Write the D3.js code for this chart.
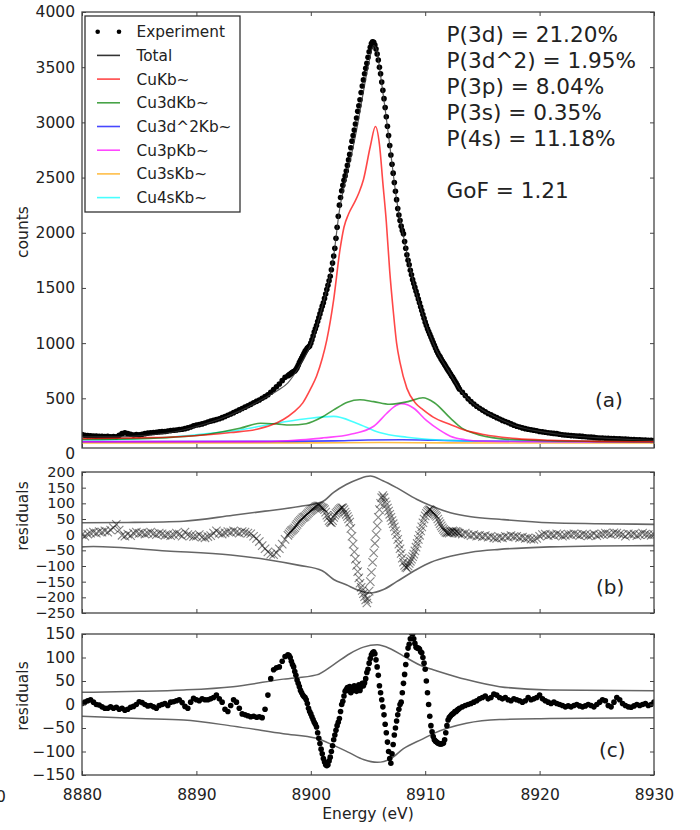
<!DOCTYPE html>
<html><head><meta charset="utf-8">
<script src="https://cdn.jsdelivr.net/npm/d3@7"></script>
<style>body{margin:0;background:#fff} text{font-family:"DejaVu Sans",sans-serif;fill:#222}</style>
</head><body><svg id="chart" width="700" height="830"></svg>
<script>
// ---------- DATA ----------
// energy grid of the measured points (eV)
const energy = [].concat(
  d3.range(0, 73).map(i => +(8880 + i * 0.25).toFixed(2)),
  d3.range(1, 151).map(i => +(8898 + i * 0.1).toFixed(2)),
  d3.range(1, 69).map(i => +(8913 + i * 0.25).toFixed(2))
);
// Experiment counts
const expCounts = [
 172,165,162,160, 158,157,156,155, 154,155,152,153, 151,165,180,187, 180,175,168,172,
 170,175,180,185, 188,190,193,196, 198,200,203,207, 210,213,217,220, 225,232,240,250,
 258,262,268,276, 285,293,300,307, 315,325,335,347, 358,370,383,395, 408,420,433,445,
 460,472,485,500, 515,532,555,580, 605,630,660,690, 705,
 712,720,728,735,742,748,760,778,800,
 825,845,865,885,905,925,940,955,965,975,
 1000,1030,1065,1100,1130,1160,1195,1230,1265,1300,
 1335,1365,1405,1445,1485,1525,1565,1605,1665,1725,
 1790,1860,1950,2050,2150,2250,2320,2380,2430,2475,
 2515,2560,2610,2660,2710,2770,2830,2880,2930,2985,
 3040,3100,3150,3205,3270,3330,3385,3440,3490,3536,
 3590,3640,3680,3715,3731,3725,3700,3665,3620,3565,
 3500,3440,3365,3290,3215,3135,3050,2965,2880,2790,
 2705,2620,2540,2455,2375,2300,2220,2160,2110,2060,
 2020,1990,1920,1860,1800,1750,1710,1660,1620,1575,
 1540,1505,1470,1435,1400,1365,1330,1295,1260,1225,
 1190,1160,1130,1105,1080,1055,1030,1005,980,955,
 930,910,890,875,855,838,822,805,788,770,
 755,738,722,705,690,672,655,638,620,600,
 582,
 555,525,495, 470,448,428,410, 393,378,362,350, 338,325,312,300, 290,280,268,257,
 247,240,232,225, 220,215,210,206, 200,196,192,188, 185,182,180,175, 170,167,165,162,
 160,159,157,155, 152,150,148,146, 143,141,140,138, 137,136,135,134, 133,131,130,128,
 127,126,125,124, 122,121,120,119, 118
];
// residuals of fit (b)
const residB = [
 0,-5,2,5, 8,5,10,8, 12,8,15,22, 33,15,-2,-5, 2,-3,5,8, 4,6,2,5, 8,3,0,5, 3,-2,0,-3,
 0,5,2,-5, 8,0,-3,-6, -5,0,-8,-10, -6,-3,5,12, 5,2,6,10, 8,12,8,5, 10,8,5,3,
 -5,-12,-22,-35, -45,-55,-62,-64, -58,-45,-30,-15, -2,
 3,8,12,15,18,22,28,33,38,
 42,46,50,54,56,58,62,66,70,74,
 77,80,82,85,88,90,91,92,91,88,
 86,84,80,72,62,55,45,40,38,45,
 55,62,68,72,76,80,83,86,86,80,
 72,65,58,50,40,20,-5,-30,-55,-78,
 -98,-118,-138,-155,-168,-178,-188,-198,-208,-218,
 -205,-180,-150,-120,-88,-58,-28,0,28,55,
 80,100,118,125,118,105,95,85,75,65,
 55,45,35,25,12,0,-15,-30,-45,-60,
 -75,-88,-98,-104,-106,-100,-92,-85,-78,-70,
 -62,-52,-40,-28,-15,-2,12,25,38,50,
 60,68,74,78,80,78,74,70,66,62,
 58,50,42,35,28,22,17,12,8,6,
 8,5,10,8,12,10,6,11,8,5,
 4,
 2,5,0, -3,0,-5,-2, -6,-3,-8,-5, -10,-12,-8,-10, -5,-8,-3,-6, -5,-10,-8,-12,
 -10,-14,-15,-12, -5,0,2,-3, 0,-2,3,0, -5,-2,2,0, 3,0,-3,2, 0,-4,-2,3,
 -3,0,2,5, 3,0,6,5, 2,0,-5,3, 0,2,-3,0, 5,2,0,-2, 0
];
// residuals of fit (c)
const residC = [
 2,5,8,10, 5,0,-1,-5, -8,-8,-5,-8, -6,-10,-8,-12, -10,-6,-4,0, 6,4,0,-3,
 -2,-5,-8,-2, 0,2,-2,5, 6,8,10,4, -4,-8,5,13, 10,8,12,10, 10,12,15,20,
 12,5,-10,-15, -2,10,5,-8, -20,-22,-24,-26, -25,-27,-26,-28, -10,20,55,74,
 78,80,92,102, 106,
 104,100,92,85,80,70,62,52,45,
 38,30,25,20,17,15,10,2,-8,-15,
 -20,-26,-32,-38,-42,-48,-60,-72,-83,-95,
 -105,-115,-122,-128,-130,-128,-120,-112,-100,-88,
 -75,-65,-55,-45,-38,-30,-15,0,7,18,
 28,32,36,30,38,25,35,30,40,32,
 28,35,42,30,38,45,40,46,55,68,
 75,88,98,106,110,112,108,95,80,62,
 40,25,10,-5,-22,-42,-60,-80,-100,-115,
 -125,-105,-85,-65,-50,-35,-22,-10,0,5,
 25,45,64,85,105,120,128,140,152,150,
 140,130,122,120,120,118,112,110,100,88,
 75,50,25,0,-25,-45,-58,-68,-75,-78,
 -80,-82,-83,-84,-84,-83,-82,-75,-60,-45,
 -33,-28,-25,-22,-20,-18,-15,-15,-12,-10,
 -8,
 -5,-2,0, 2,5,8,12, 15,18,12,15, 22,20,15,12, 15,10,8,12, 10,8,5,8,
 15,10,12,15, 20,12,8,5, 2,5,2,0, -2,-5,-3,-5, -2,0,-3,-5, -3,0,-2,-5,
 0,5,10,8, -2,-5,5,15, 10,2,-2,-5, -6,-3,0,-2, 0,2,-2,0, 5
];
// fitted curves, panel (a): [energy, counts]
const totalFit = [[8880,150],[8883,150],[8885,160],[8888,195],[8890,245],[8892,310],[8894,395],[8896,505],[8897,565],[8898,640],[8899,790],[8900,990],[8901,1330],[8902,1790],[8902.5,2200],[8903,2460],[8903.5,2680],[8904,2930],[8904.5,3220],[8905,3500],[8905.5,3695],[8905.8,3640],[8906,3500],[8906.5,3120],[8907,2710],[8907.5,2300],[8908,2020],[8909,1540],[8910,1190],[8911,930],[8912,755],[8913,582],[8914,470],[8915,393],[8916,338],[8918,247],[8920,200],[8922,170],[8925,143],[8928,127],[8930,118]];
const cuKb = [[8880,135],[8885,142],[8888,150],[8891,170],[8893,190],[8895.3,220],[8896.5,255],[8897.6,308],[8898.5,375],[8899.3,459],[8900,590],[8900.5,700],[8901,860],[8901.4,1030],[8902,1394],[8902.55,1846],[8902.9,2050],[8903.3,2170],[8903.8,2270],[8904.2,2360],[8904.6,2480],[8905.2,2781],[8905.65,2962],[8906,2800],[8906.3,2450],[8906.6,2100],[8906.9,1650],[8907.2,1300],[8907.5,1000],[8907.8,823],[8908.4,590],[8909.2,450],[8909.8,398],[8910.7,330],[8912.2,262],[8913.5,210],[8915.1,172],[8918,135],[8920.9,120],[8925,110],[8930,106]];
const cu3dKb = [[8880,128],[8885,135],[8888,148],[8891,175],[8893.8,228],[8895.6,274],[8897,268],[8898.2,258],[8899.6,270],[8901,330],[8902,395],[8903.2,465],[8904.3,487],[8905.5,470],[8906.9,446],[8908.5,470],[8909.8,505],[8910.8,460],[8912.2,320],[8913.2,230],[8914.2,185],[8916.5,135],[8920,118],[8925,110],[8930,106]];
const cu3d2Kb = [[8880,108],[8898,110],[8902,114],[8905,122],[8908,124],[8911,120],[8915,112],[8930,106]];
const cu3pKb = [[8880,106],[8895,108],[8898,116],[8900,130],[8901.1,142],[8903.4,172],[8905.5,247],[8906.6,360],[8907.3,425],[8907.9,452],[8908.5,440],[8909,410],[8910.1,300],[8911.3,210],[8912.2,157],[8913.5,125],[8915,112],[8920,106],[8930,104]];
const cu3sKb = [[8880,96],[8900,96],[8906,99],[8912,96],[8930,95]];
const cu4sKb = [[8880,125],[8885,135],[8888,150],[8891,180],[8893.8,213],[8896.7,270],[8899.6,315],[8902,336],[8904,275],[8906,190],[8908.4,147],[8911.3,122],[8915,112],[8930,104]];
// error envelopes
const envBUp = [[8880,38],[8884,39],[8888.9,43],[8893.2,62],[8896,75],[8899,90],[8901,105],[8902,135],[8903.1,160],[8904.2,178],[8905.2,187],[8906.3,172],[8907.5,150],[8909.25,113],[8910.5,92],[8912.2,70],[8914,57],[8916.5,49],[8920.9,38],[8925,35],[8930,33]];
const envBLo = [[8880,-39],[8881,-38],[8887.4,-52],[8893,-65],[8896.1,-79],[8899,-98],[8901,-115],[8902,-143],[8903.1,-160],[8904.2,-178],[8905.2,-186],[8906.3,-176],[8907.5,-150],[8909.25,-111],[8910.5,-88],[8912.2,-69],[8914,-56],[8916.5,-47],[8920.9,-39],[8925,-36],[8930,-35]];
const envCUp = [[8880,26],[8885,28],[8888.9,31],[8893.2,38],[8897.6,54],[8900.5,63],[8902,85],[8903.4,108],[8904.6,122],[8905.8,127],[8907,118],[8908.1,103],[8909.8,81],[8910.7,74],[8913.6,53],[8916.5,38],[8920.9,31],[8930,29]];
const envCLo = [[8880,-25],[8885,-30],[8888.9,-33],[8893.2,-46],[8897.6,-62],[8900.5,-72],[8902,-87],[8903.4,-103],[8904.6,-117],[8905.8,-123],[8907,-115],[8908.1,-94],[8909.8,-73],[8910.7,-62],[8913.6,-40],[8916.5,-32],[8920.9,-30],[8930,-28]];
// legend, annotations, ticks
const legendLabels = ["Experiment","Total","CuKb~","Cu3dKb~","Cu3d^2Kb~","Cu3pKb~","Cu3sKb~","Cu4sKb~"];
const annotations = ["P(3d) = 21.20%","P(3d^2) = 1.95%","P(3p) = 8.04%","P(3s) = 0.35%","P(4s) = 11.18%"];
const gofText = "GoF = 1.21";
const xTicks = [8880,8890,8900,8910,8920,8930];
const yTicksA = [0,500,1000,1500,2000,2500,3000,3500,4000];
const yTicksB = [-250,-200,-150,-100,-50,0,50,100,150,200];
const yTicksC = [-150,-100,-50,0,50,100,150];

// ---------- DRAW ----------
const svg = d3.select("#chart");
svg.append("rect").attr("width",700).attr("height",830).attr("fill","#fff");
const X0 = 82, X1 = 654;
const x = d3.scaleLinear().domain([8880,8930]).range([X0,X1]);
const fmt = d => d < 0 ? "\u2212" + Math.abs(d) : String(d);
const FS = 15.5;

function panel(id, y, top, bottom, yTicks, showXLabels, yFs) {
  const g = svg.append("g");
  svg.append("clipPath").attr("id", "clip"+id).append("rect")
    .attr("x", X0).attr("y", top).attr("width", X1 - X0).attr("height", bottom - top);
  const plot = g.append("g").attr("clip-path", `url(#clip${id})`);
  const axes = g.append("g");
  const ax = (fs) => (sel) => sel.call(s => s.select(".domain").remove())
      .call(s => s.selectAll(".tick line").attr("stroke","#444"))
      .call(s => s.selectAll("text").attr("font-size", fs).attr("fill","#222").attr("font-family","DejaVu Sans"));
  axes.append("g").attr("transform",`translate(${X0},0)`)
    .call(d3.axisLeft(y).tickValues(yTicks).tickSize(-4).tickPadding(7).tickFormat(fmt)).call(ax(yFs))
    .call(s => s.selectAll(".tick").filter(d => y(d) > bottom + 0.5).select("line").remove());
  axes.append("g").attr("transform",`translate(${X1},0)`)
    .call(d3.axisRight(y).tickValues(yTicks.filter(d => y(d) <= bottom + 0.5)).tickSize(-4).tickFormat("")).call(ax(yFs));
  axes.append("g").attr("transform",`translate(0,${top})`)
    .call(d3.axisTop(x).tickValues(xTicks).tickSize(-4).tickFormat("")).call(ax(FS));
  axes.append("g").attr("transform",`translate(0,${bottom})`)
    .call(d3.axisBottom(x).tickValues(xTicks).tickSize(-4).tickPadding(14).tickFormat(showXLabels ? d3.format("d") : "")).call(ax(FS));
  axes.append("rect").attr("x",X0).attr("y",top).attr("width",X1-X0).attr("height",bottom-top)
    .attr("fill","none").attr("stroke","#444").attr("stroke-width",1.3);
  return plot;
}

// Panel (a)
const yA = d3.scaleLinear().domain([0,4000]).range([453.5,12]);
const pA = panel("a", yA, 12, 448, yTicksA, false, FS);
const lineA = d3.line().x(d => x(d[0])).y(d => yA(d[1])).curve(d3.curveMonotoneX);
const comps = [
  {data: cu3sKb, color: "#ffa500"},
  {data: cu3d2Kb, color: "#0000ff"},
  {data: cu4sKb, color: "#00ffff"},
  {data: cu3pKb, color: "#ff00ff"},
  {data: cu3dKb, color: "#008000"},
  {data: cuKb, color: "#ff0000"}
];
const expPts = energy.map((e,i) => [e, expCounts[i]]);
pA.selectAll("circle.exp").data(expPts).join("circle").attr("class","exp")
  .attr("cx", d => x(d[0])).attr("cy", d => yA(d[1])).attr("r", 2.8).attr("fill","#000");
comps.forEach(c => pA.append("path").attr("d", lineA(c.data)).attr("fill","none")
  .attr("stroke", c.color).attr("stroke-opacity", 0.72).attr("stroke-width", 1.6));
pA.append("path").attr("d", lineA(totalFit)).attr("fill","none").attr("stroke","#333")
  .attr("stroke-opacity",0.8).attr("stroke-width",1.2);

// legend
const leg = svg.append("g");
leg.append("rect").attr("x",85).attr("y",16).attr("width",155).attr("height",196)
  .attr("fill","#fff").attr("stroke","#333").attr("stroke-width",1.3);
const legColors = [null,"#000","#ff0000","#008000","#0000ff","#ff00ff","#ffa500","#00ffff"];
legendLabels.forEach((lab,i) => {
  const yy = 31.7 + i*23.7;
  if (i === 0) {
    [97.7,119].forEach(cx => leg.append("circle").attr("cx",cx).attr("cy",yy).attr("r",2.3).attr("fill","#000"));
  } else {
    leg.append("line").attr("x1",97).attr("x2",120).attr("y1",yy).attr("y2",yy)
      .attr("stroke",legColors[i]).attr("stroke-opacity", i===1 ? 0.8 : 0.72).attr("stroke-width",1.6);
  }
  leg.append("text").attr("x",136.5).attr("y",yy).attr("dy","0.36em").attr("font-size",15.3).text(lab);
});
// annotations
annotations.forEach((t,i) => svg.append("text").attr("x",446.5).attr("y",34 + i*26).attr("dy","0.36em")
  .attr("font-size",21.6).text(t));
svg.append("text").attr("x",446.5).attr("y",190).attr("dy","0.36em").attr("font-size",21.6).text(gofText);
svg.append("text").attr("x",595).attr("y",400).attr("dy","0.36em").attr("font-size",20).text("(a)");

// Panel (b)
const yB = d3.scaleLinear().domain([-250,200]).range([613,472]);
const pB = panel("b", yB, 472, 613, yTicksB, false, 14.5);
const lineB = d3.line().x(d => x(d[0])).y(d => yB(d[1])).curve(d3.curveMonotoneX);
[envBUp, envBLo].forEach(env => pB.append("path").attr("d", lineB(env)).attr("fill","none")
  .attr("stroke","#666").attr("stroke-width",1.6));
const resBPts = energy.map((e,i) => [e, residB[i]]);
pB.selectAll("path.xm").data(resBPts).join("path").attr("class","xm")
  .attr("transform", d => `translate(${x(d[0])},${yB(d[1])})`)
  .attr("d","M-4.2,-4.2L4.2,4.2M-4.2,4.2L4.2,-4.2").attr("stroke","#000")
  .attr("stroke-opacity",0.48).attr("stroke-width",1.1).attr("fill","none");
svg.append("text").attr("x",596).attr("y",587).attr("dy","0.36em").attr("font-size",20).text("(b)");

// Panel (c)
const yC = d3.scaleLinear().domain([-150,150]).range([775,634]);
const pC = panel("c", yC, 634, 775, yTicksC, true, FS);
const lineC = d3.line().x(d => x(d[0])).y(d => yC(d[1])).curve(d3.curveMonotoneX);
[envCUp, envCLo].forEach(env => pC.append("path").attr("d", lineC(env)).attr("fill","none")
  .attr("stroke","#666").attr("stroke-width",1.5));
const resCPts = energy.map((e,i) => [e, residC[i]]);
pC.selectAll("circle.rc").data(resCPts).join("circle").attr("class","rc")
  .attr("cx", d => x(d[0])).attr("cy", d => yC(d[1])).attr("r", 2.8).attr("fill","#000");
svg.append("text").attr("x",599).attr("y",750).attr("dy","0.36em").attr("font-size",20).text("(c)");

// axis titles
svg.append("text").attr("transform","translate(22,232) rotate(-90)").attr("text-anchor","middle")
  .attr("dy","0.36em").attr("font-size",FS).text("counts");
svg.append("text").attr("transform","translate(22,516) rotate(-90)").attr("text-anchor","middle")
  .attr("dy","0.36em").attr("font-size",FS).text("residuals");
svg.append("text").attr("transform","translate(22,696) rotate(-90)").attr("text-anchor","middle")
  .attr("dy","0.36em").attr("font-size",FS).text("residuals");
svg.append("text").attr("x",368).attr("y",813).attr("text-anchor","middle").attr("dy","0.36em")
  .attr("font-size",FS).text("Energy (eV)");
svg.append("text").attr("x",-4).attr("y",796).attr("dy","0.36em").attr("font-size",FS).text("0");
</script></body></html>
